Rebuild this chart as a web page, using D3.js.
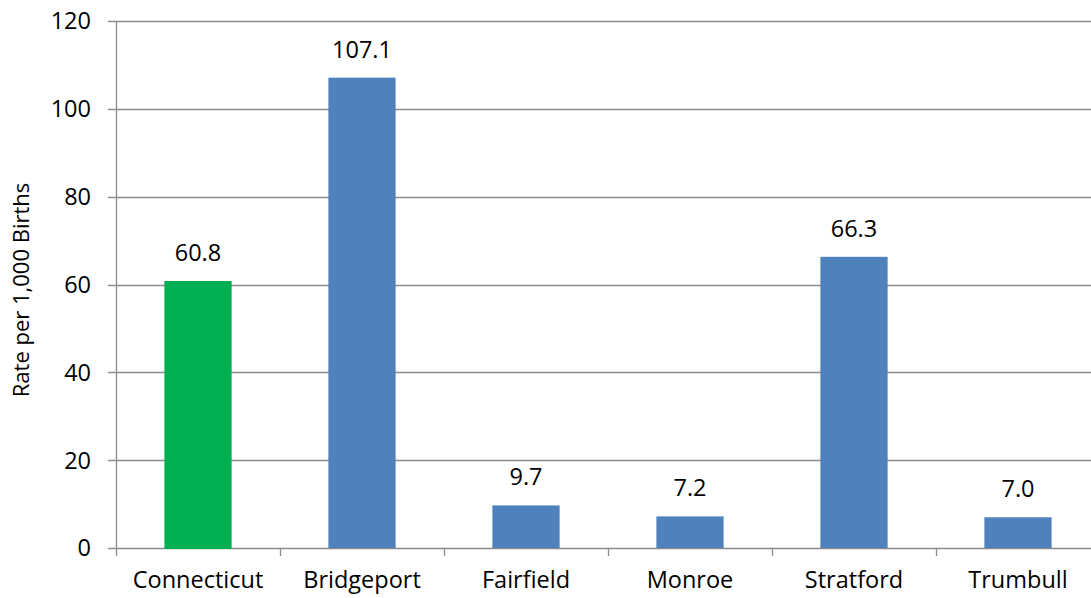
<!DOCTYPE html>
<html>
<head>
<meta charset="utf-8">
<script src="https://cdn.jsdelivr.net/npm/d3@7"></script>
<style>
  body { margin: 0; background: #fff; }
  svg text { font-family: "Open Sans", "Noto Sans", sans-serif; fill: #000; }
</style>
</head>
<body>
<svg id="chart"></svg>
<script>
// chart values
var categories = ["Connecticut", "Bridgeport", "Fairfield", "Monroe", "Stratford", "Trumbull"];
var rates = [60.8, 107.1, 9.7, 7.2, 66.3, 7.0];
var labels = ["60.8", "107.1", "9.7", "7.2", "66.3", "7.0"];
var yTicks = [0, 20, 40, 60, 80, 100, 120];
var barColors = ["#00B050", "#4F81BD", "#4F81BD", "#4F81BD", "#4F81BD", "#4F81BD"];

var W = 1091, H = 598;
var margin = {top: 21, left: 116, bottom: 50};
var plotH = H - margin.top - margin.bottom; // 527
var bandW = 164;

var svg = d3.select("#chart").attr("width", W).attr("height", H);
var g = svg.append("g").attr("transform", "translate(" + margin.left + "," + margin.top + ")");

var x = d3.scaleBand()
    .domain(categories)
    .range([0, bandW * categories.length])
    .paddingInner(0.59).paddingOuter(0.295);
var xb = d3.scaleBand().domain(categories).range([0, bandW * categories.length]);
var y = d3.scaleLinear().domain([0, 120]).range([plotH, 0]);

// gridlines
g.selectAll(".grid")
    .data(yTicks)
  .enter().append("line")
    .attr("x1", -8).attr("x2", W)
    .attr("y1", function(d) { return Math.round(y(d)) + 0.5; })
    .attr("y2", function(d) { return Math.round(y(d)) + 0.5; })
    .attr("stroke", "#8c8c8c").attr("stroke-width", 1.3);

// y axis line
g.append("line")
    .attr("x1", 0.5).attr("x2", 0.5)
    .attr("y1", 0).attr("y2", plotH)
    .attr("stroke", "#8c8c8c").attr("stroke-width", 1.3);

// y tick labels
g.selectAll(".ylab")
    .data(yTicks)
  .enter().append("text")
    .attr("x", -25)
    .attr("y", function(d) { return y(d); })
    .attr("dy", "0.36em")
    .attr("text-anchor", "end")
    .style("font-size", "23.5px")
    .text(function(d) { return d; });

// bars
g.selectAll(".bar")
    .data(categories)
  .enter().append("rect")
    .attr("x", function(d) { return x(d); })
    .attr("width", x.bandwidth())
    .attr("y", function(d, i) { return y(rates[i]); })
    .attr("height", function(d, i) { return plotH - y(rates[i]) + (i === 0 ? 1 : 0); })
    .attr("fill", function(d, i) { return barColors[i]; });

// x category tick marks
var bounds = categories.map(function(d) { return xb(d); }).concat([bandW * categories.length]);
g.selectAll(".xtick")
    .data(bounds)
  .enter().append("line")
    .attr("x1", function(d) { return Math.round(d) + 0.5; })
    .attr("x2", function(d) { return Math.round(d) + 0.5; })
    .attr("y1", plotH).attr("y2", plotH + 8)
    .attr("stroke", "#8c8c8c").attr("stroke-width", 1.3);

// value labels
g.selectAll(".val")
    .data(categories)
  .enter().append("text")
    .attr("x", function(d) { return x(d) + x.bandwidth() / 2; })
    .attr("y", function(d, i) { return y(rates[i]) - 20; })
    .attr("text-anchor", "middle")
    .style("font-size", "23.5px")
    .text(function(d, i) { return labels[i]; });

// category labels
g.selectAll(".xlab")
    .data(categories)
  .enter().append("text")
    .attr("x", function(d) { return xb(d) + bandW / 2; })
    .attr("y", plotH + 40)
    .attr("text-anchor", "middle")
    .style("font-size", "23.5px")
    .text(function(d) { return d; });

// y axis title
svg.append("text")
    .attr("transform", "translate(29,290) rotate(-90)")
    .attr("text-anchor", "middle")
    .style("font-size", "22px")
    .text("Rate per 1,000 Births");
</script>
</body>
</html>
